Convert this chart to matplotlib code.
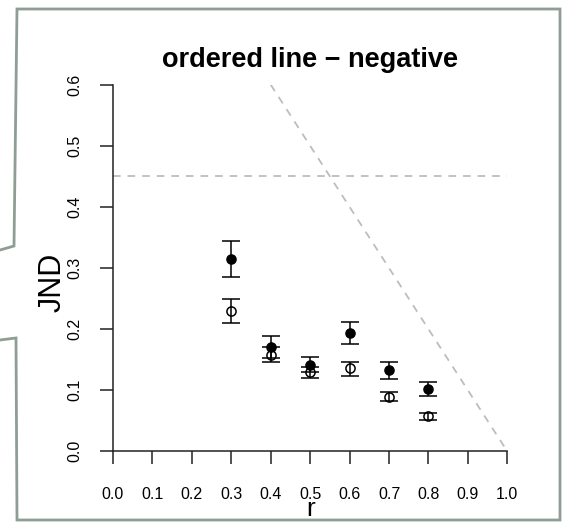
import matplotlib
matplotlib.use("Agg")
import matplotlib.pyplot as plt
from matplotlib.lines import Line2D
import numpy as np

plt.rcParams['font.family'] = ['Liberation Sans', 'DejaVu Sans']
plt.rcParams['lines.scale_dashes'] = False

# Correlation levels and JND estimates with 95% interval bounds
r_values = [0.3, 0.4, 0.5, 0.6, 0.7, 0.8]

jnd_filled = [0.314, 0.171, 0.142, 0.193, 0.133, 0.102]
filled_low = [0.286, 0.152, 0.129, 0.175, 0.118, 0.091]
filled_high = [0.345, 0.189, 0.155, 0.211, 0.146, 0.114]

jnd_open = [0.230, 0.158, 0.129, 0.136, 0.089, 0.058]
open_low = [0.210, 0.146, 0.120, 0.124, 0.083, 0.052]
open_high = [0.250, 0.171, 0.138, 0.146, 0.097, 0.063]

x_ticks = [0.0, 0.1, 0.2, 0.3, 0.4, 0.5, 0.6, 0.7, 0.8, 0.9, 1.0]
y_ticks = [0.0, 0.1, 0.2, 0.3, 0.4, 0.5, 0.6]
ceiling = 0.45

W, H = 568, 528
fig = plt.figure(figsize=(W / 100, H / 100), dpi=100)
ax = fig.add_axes([113 / W, 1 - 451.3 / H, 394.3 / W, 366.6 / H])
ax.set_xlim(0, 1)
ax.set_ylim(0, 0.6)

dash_col = '#bdbdbd'
ax.axhline(ceiling, color=dash_col, lw=1.3, linestyle=(0, (5.5, 5)), zorder=1)
ax.axline((0, 1), slope=-1, color=dash_col, lw=1.3, linestyle=(0, (5.5, 5)), zorder=1)

def err(mean, lo, hi):
    mean = np.asarray(mean)
    return [mean - np.asarray(lo), np.asarray(hi) - mean]

ax.errorbar(r_values, jnd_open, yerr=err(jnd_open, open_low, open_high),
            fmt='o', mfc='none', mec='black', mew=1.1, ms=6.6,
            ecolor='black', elinewidth=1.1, capsize=6.2, capthick=1.1,
            zorder=3, clip_on=False)
ax.errorbar(r_values, jnd_filled, yerr=err(jnd_filled, filled_low, filled_high),
            fmt='o', mfc='black', mec='black', ms=6.6,
            ecolor='black', elinewidth=1.1, capsize=6.2, capthick=1.1,
            zorder=4, clip_on=False)

for side in ('top', 'right'):
    ax.spines[side].set_visible(False)
for side in ('left', 'bottom'):
    ax.spines[side].set_linewidth(1.1)
    ax.spines[side].set_color('#222222')

ax.set_xticks(x_ticks)
ax.set_xticklabels([f"{v:.1f}" for v in x_ticks], fontsize=11.5)
ax.set_yticks(y_ticks)
ax.set_yticklabels([f"{v:.1f}" for v in y_ticks], fontsize=11.5,
                   rotation=90, va='center')
ax.tick_params(axis='both', direction='out', length=9.4, width=1.1,
               color='#222222')
ax.tick_params(axis='x', pad=16.5)
ax.tick_params(axis='y', pad=13)

ax.set_xlabel('r', fontsize=19, va='baseline')
ax.xaxis.set_label_coords(0.5, -0.177)
ax.set_ylabel('JND', fontsize=22)
ax.yaxis.set_label_coords(-0.115, 0.46)

ax.set_title('ordered line \u2212 negative', fontsize=19.5, fontweight='bold',
             pad=12.5)

# Callout frame around the panel
pts = [(0, 340), (16, 338), (17, 520), (560, 520), (560, 9), (17, 9),
       (14, 246), (0, 250)]
fx = [p[0] / W for p in pts]
fy = [1 - p[1] / H for p in pts]
fig.add_artist(Line2D(fx, fy, transform=fig.transFigure, color='#8e9e94',
                      lw=2.0, solid_joinstyle='miter'))

fig.savefig('out.png', dpi=100)
